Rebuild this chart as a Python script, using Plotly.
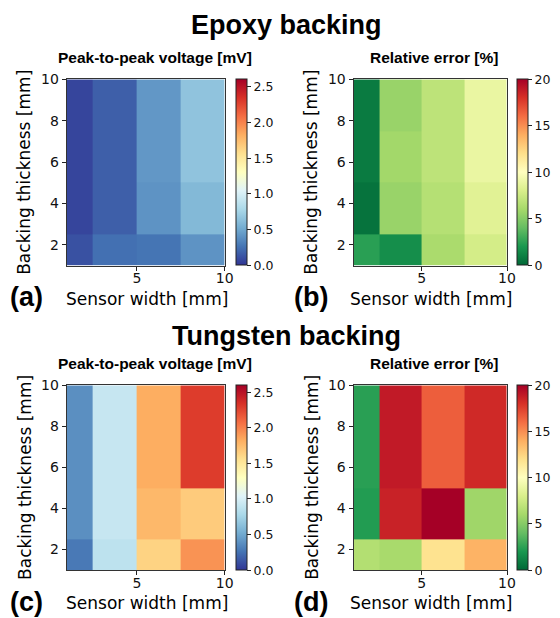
import plotly.graph_objects as go

W, H = 560, 618

# ---------------- data ----------------
sensor_edges = [1, 2.5, 5, 7.5, 10]       # sensor width [mm] cell edges
thickness_edges = [1, 2.5, 5, 7.5, 10]    # backing thickness [mm] cell edges

# rows: bottom (1-2.5 mm) to top (7.5-10 mm); columns: left to right
epoxy_vpp = [
    [0.11, 0.24, 0.26, 0.40],
    [0.06, 0.17, 0.40, 0.59],
    [0.06, 0.17, 0.42, 0.65],
    [0.06, 0.17, 0.42, 0.65],
]
epoxy_err = [
    [2.4, 1.6, 6.2, 7.8],
    [0.45, 5.6, 6.6, 8.4],
    [0.8, 5.9, 6.9, 8.9],
    [0.8, 5.6, 6.9, 8.9],
]
tungsten_vpp = [
    [0.28, 0.87, 1.63, 1.93],
    [0.38, 0.91, 1.77, 1.67],
    [0.38, 0.91, 1.82, 2.29],
    [0.38, 0.91, 1.82, 2.29],
]
tungsten_err = [
    [6.5, 6.1, 11.8, 13.8],
    [2.2, 18.6, 20.0, 5.8],
    [2.4, 18.9, 16.5, 18.3],
    [2.4, 18.9, 16.5, 18.3],
]

x_ticks = [5, 10]
y_ticks = [2, 4, 6, 8, 10]
vpp_ticks = [0.0, 0.5, 1.0, 1.5, 2.0, 2.5]
err_ticks = [0, 5, 10, 15, 20]
vpp_range = (0, 2.6)
err_range = (0, 20)

# ---------------- colour scales ----------------
rdylbu = ['#a50026', '#d73027', '#f46d43', '#fdae61', '#fee090', '#ffffbf',
          '#e0f3f8', '#abd9e9', '#74add1', '#4575b4', '#313695']
rdylgn = ['#a50026', '#d73027', '#f46d43', '#fdae61', '#fee08b', '#ffffbf',
          '#d9ef8b', '#a6d96a', '#66bd63', '#1a9850', '#006837']


def scale(cols):
    cols = cols[::-1]
    n = len(cols) - 1
    return [[i / n, c] for i, c in enumerate(cols)]


vpp_scale = scale(rdylbu)
err_scale = scale(rdylgn)

SANS = 'DejaVu Sans'
ARIAL = 'Liberation Sans'


def px_x(p):
    return p / W


def px_y(p):
    return 1 - p / H


# panel geometry in pixels: (left, right, top, bottom, cbar_left)
panels = {
    'a': (67.7, 228.3, 72.3, 261.0, 239.5),
    'b': (359.3, 515.3, 72.3, 261.0, 525.0),
    'c': (67.7, 228.3, 382.3, 569.3, 239.5),
    'd': (359.3, 515.3, 382.3, 569.3, 525.0),
}

specs = [
    ('a', epoxy_vpp, vpp_scale, vpp_range, vpp_ticks, ['%.1f' % t for t in vpp_ticks]),
    ('b', epoxy_err, err_scale, err_range, err_ticks, [str(t) for t in err_ticks]),
    ('c', tungsten_vpp, vpp_scale, vpp_range, vpp_ticks, ['%.1f' % t for t in vpp_ticks]),
    ('d', tungsten_err, err_scale, err_range, err_ticks, [str(t) for t in err_ticks]),
]

fig = go.Figure()
layout_axes = {}
for i, (key, z, cs, rng, cticks, ctext) in enumerate(specs):
    l, r, t, b, cbl = panels[key]
    xa = 'x' if i == 0 else 'x%d' % (i + 1)
    ya = 'y' if i == 0 else 'y%d' % (i + 1)
    fig.add_trace(go.Heatmap(
        z=z, x=sensor_edges, y=thickness_edges,
        colorscale=cs, zmin=rng[0], zmax=rng[1],
        xaxis=xa, yaxis=ya, hoverinfo='skip',
        colorbar=dict(
            x=px_x(cbl), xanchor='left', xref='paper',
            y=(px_y(t) + px_y(b)) / 2, yanchor='middle', yref='paper',
            len=(b - t) / H, lenmode='fraction',
            thickness=11, thicknessmode='pixels',
            outlinewidth=1, outlinecolor='#222',
            ticks='outside', ticklen=4, tickwidth=1, tickcolor='#222',
            tickvals=cticks, ticktext=ctext,
            tickfont=dict(family=SANS, size=12.5, color='#111'),
            xpad=0, ypad=0,
        ),
    ))
    axcommon = dict(
        showline=True, mirror=True, linecolor='#333', linewidth=1,
        ticks='outside', ticklen=4, tickwidth=1, tickcolor='#222',
        tickfont=dict(family=SANS, size=14, color='#111'),
        showgrid=False, zeroline=False, fixedrange=True,
    )
    xname = 'xaxis' if i == 0 else 'xaxis%d' % (i + 1)
    yname = 'yaxis' if i == 0 else 'yaxis%d' % (i + 1)
    layout_axes[xname] = dict(axcommon, domain=[px_x(l), px_x(r)], range=[1, 10],
                              tickvals=x_ticks, anchor=ya, ticklabelstandoff=-4)
    layout_axes[yname] = dict(axcommon, domain=[px_y(b), px_y(t)], range=[1, 10],
                              tickvals=y_ticks, anchor=xa)

fig.update_layout(**layout_axes)

ann = []


def text(s, x, y, size, family, bold=False, angle=0):
    ann.append(dict(
        text=('<b>%s</b>' % s) if bold else s,
        x=px_x(x), y=px_y(y), xref='paper', yref='paper',
        xanchor='center', yanchor='middle', showarrow=False,
        textangle=angle,
        font=dict(family=family, size=size, color='#000'),
    ))


# big titles
text('Epoxy backing', 291.5, 17, 27, ARIAL, bold=True)
text('Tungsten backing', 291.5, 332, 27, ARIAL, bold=True)

for key, title in [('a', 'Peak-to-peak voltage [mV]'), ('b', 'Relative error [%]'),
                   ('c', 'Peak-to-peak voltage [mV]'), ('d', 'Relative error [%]')]:
    l, r, t, b, cbl = panels[key]
    tx = 157.5 if key in 'ac' else 441.5
    text(title, tx, t - 22, 15.5, ARIAL, bold=True)
    text('Sensor width [mm]', (l + r) / 2 + 1, b + 34, 17, SANS)
    text('Backing thickness [mm]', l - 43, (t + b) / 2, 17, SANS, angle=-90)
    text('(%s)' % key, l - 41 if key in 'ac' else l - 43, b + 32, 27, ARIAL, bold=True)

fig.update_layout(
    width=W, height=H,
    margin=dict(l=0, r=0, t=0, b=0),
    paper_bgcolor='white', plot_bgcolor='white',
    annotations=ann,
    showlegend=False,
)

fig.write_html('out.html')
